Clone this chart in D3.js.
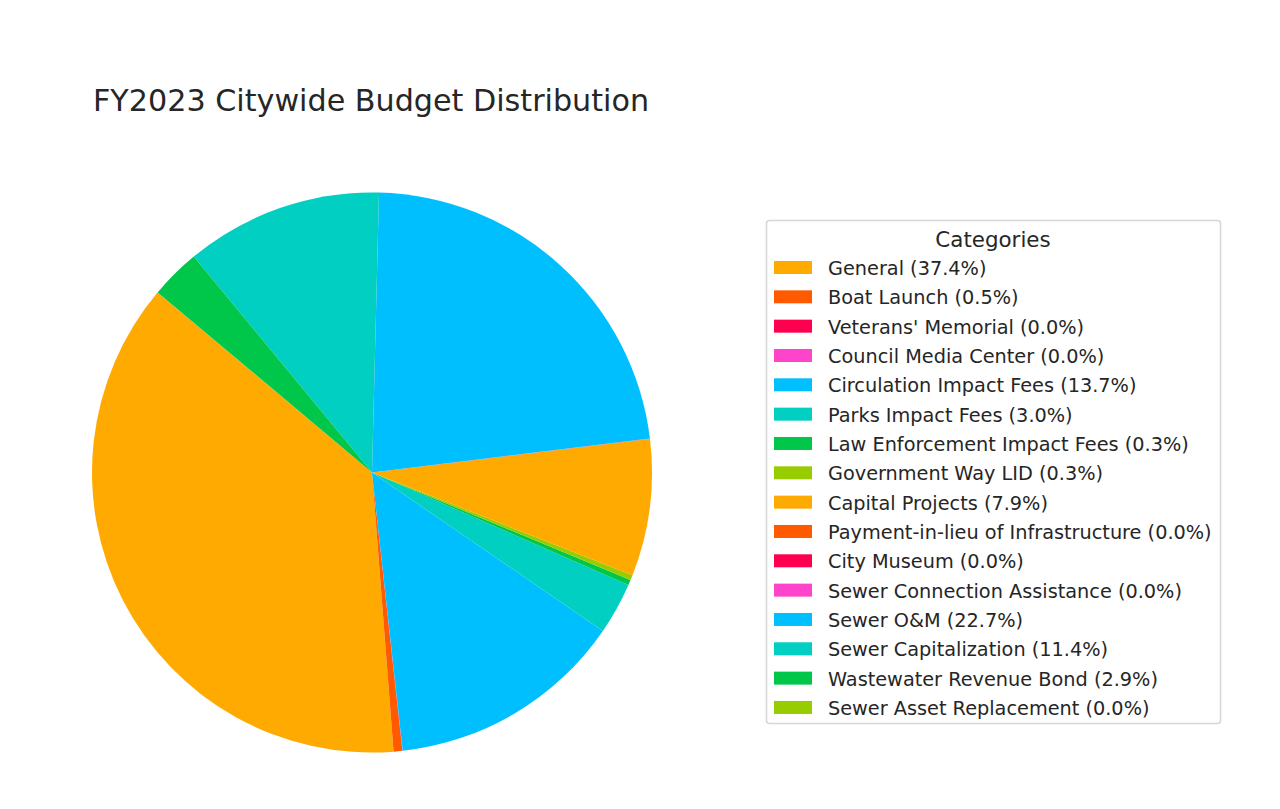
<!DOCTYPE html>
<html><head><meta charset="utf-8">
<script src="https://cdn.jsdelivr.net/npm/d3@7"></script>
<style>body{margin:0;background:#fff}svg{display:block}</style>
</head><body><svg id="c" width="1280" height="809"></svg>
<script>
const categories = ["General","Boat Launch","Veterans' Memorial","Council Media Center","Circulation Impact Fees","Parks Impact Fees","Law Enforcement Impact Fees","Government Way LID","Capital Projects","Payment-in-lieu of Infrastructure","City Museum","Sewer Connection Assistance","Sewer O&M","Sewer Capitalization","Wastewater Revenue Bond","Sewer Asset Replacement"];
const values = [37.4,0.5,0.01,0.01,13.7,3.0,0.3,0.3,7.9,0.01,0.01,0.01,22.7,11.4,2.9,0.01];
const percentLabels = ["37.4%","0.5%","0.0%","0.0%","13.7%","3.0%","0.3%","0.3%","7.9%","0.0%","0.0%","0.0%","22.7%","11.4%","2.9%","0.0%"];
const palette = ["#FFAA00","#FF5A00","#FF0050","#FF44CC","#00BFFF","#00CFC1","#00C74A","#96CC00"];

const svg = d3.select("#c");
const cx=372, cy=472.5, R=280;
const color = d3.scaleOrdinal().domain(categories).range(palette.concat(palette));
const deg = Math.PI/180;
const pie = d3.pie().sort(null).value(d=>d.v).startAngle(-50*deg).endAngle(-410*deg);
const data = categories.map((c,i)=>({c, v:values[i], p:percentLabels[i]}));
const arc = d3.arc().innerRadius(0).outerRadius(R);
svg.append("g").attr("transform",`translate(${cx},${cy})`)
  .selectAll("path").data(pie(data)).join("path")
  .attr("d",arc).attr("fill",d=>color(d.data.c));

svg.append("text").attr("x",93).attr("y",111).text("FY2023 Citywide Budget Distribution")
  .attr("font-family","DejaVu Sans").attr("font-size",30.2).attr("fill","#262626");

const lg = svg.append("g");
lg.append("rect").attr("x",766.5).attr("y",220.5).attr("width",454).attr("height",503).attr("rx",3)
  .attr("fill","#fff").attr("stroke","#d6d6d6").attr("stroke-width",1.5);
lg.append("text").attr("x",993).attr("y",246.5).attr("text-anchor","middle").text("Categories")
  .attr("font-family","DejaVu Sans").attr("font-size",21.4).attr("fill","#262626");
const y0=267.5, dy=29.33;
const items = lg.selectAll("g.it").data(data).join("g").attr("class","it")
  .attr("transform",(d,i)=>`translate(0,${y0+i*dy})`);
items.append("rect").attr("x",774).attr("y",-6.5).attr("width",38).attr("height",13).attr("fill",d=>color(d.c));
items.append("text").attr("x",828).attr("y",7.5).text(d=>`${d.c} (${d.p})`)
  .attr("font-family","DejaVu Sans").attr("font-size",19.3).attr("fill","#262626");
</script></body></html>
